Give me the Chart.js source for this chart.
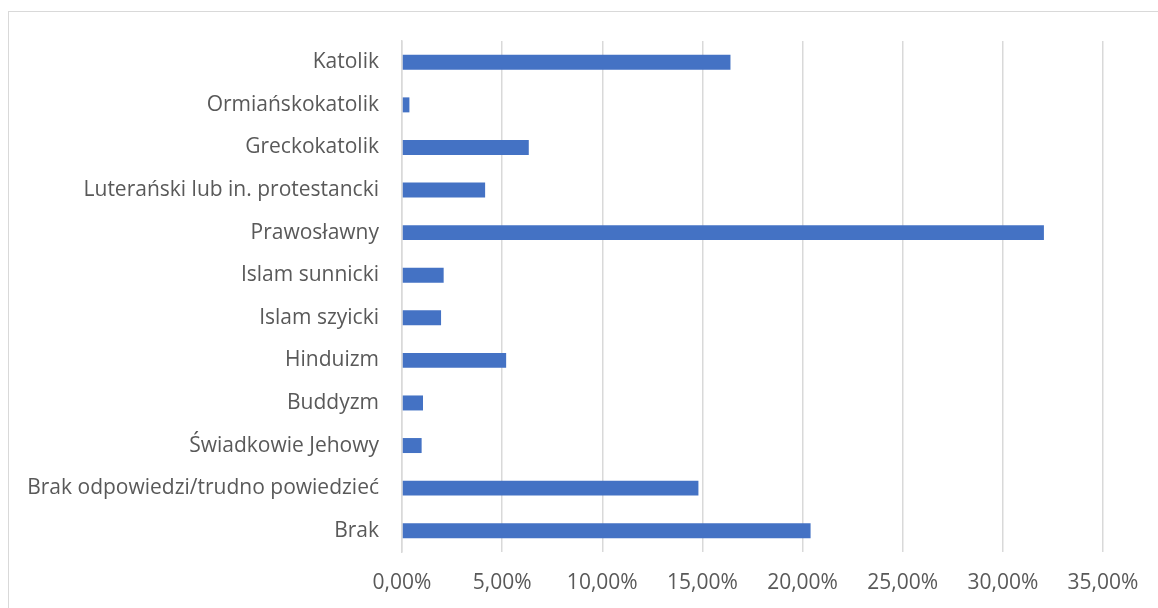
<!DOCTYPE html>
<html>
<head>
<meta charset="utf-8">
<script src="https://cdn.jsdelivr.net/npm/chart.js@4"></script>
<style>
    html, body { margin: 0; padding: 0; background: #fff; overflow: hidden; }
    #frame { position: absolute; left: 8px; top: 11px; width: 1200px; height: 700px; border: 1px solid #d9d9d9; }
    #wrap { position: absolute; left: 0; top: 0; width: 1158px; height: 608px; }
</style>
</head>
<body>
<div id="frame"></div>
<div id="wrap"><canvas id="religion-chart"></canvas></div>
<script>
// categories, top to bottom
var labelsReligion = ['Katolik', 'Ormiańskokatolik', 'Greckokatolik', 'Luterański lub in. protestancki',
    'Prawosławny', 'Islam sunnicki', 'Islam szyicki', 'Hinduizm', 'Buddyzm', 'Świadkowie Jehowy',
    'Brak odpowiedzi/trudno powiedzieć', 'Brak']
// share of respondents, in %
var dataReligion = [16.4, 0.37, 6.33, 4.15, 32.05, 2.08, 1.95, 5.2, 1.05, 0.98, 14.8, 20.4]
var axisMin = 0
var axisMax = 35
var axisStep = 5

var barColor = '#4472C4'
var gridColor = '#d9d9d9'
var textColor = '#595959'

var ctxReligion = document.getElementById('religion-chart').getContext('2d');

let religionChart = new Chart(ctxReligion, {
    type: 'bar',
    data: {
        labels: labelsReligion,
        datasets: [{
            data: dataReligion,
            backgroundColor: barColor,
            barPercentage: 0.352,
            categoryPercentage: 1
        }]
    },
    options: {
        indexAxis: 'y',
        responsive: true,
        maintainAspectRatio: false,
        animation: false,
        layout: {
            padding: { top: 41, right: 55, bottom: 0, left: 0 }
        },
        plugins: {
            legend: { display: false },
            tooltip: { enabled: false }
        },
        scales: {
            x: {
                min: axisMin,
                max: axisMax,
                ticks: {
                    stepSize: axisStep,
                    color: textColor,
                    font: { family: 'Open Sans', size: 21 },
                    padding: 18,
                    callback: function (value) {
                        return value.toFixed(2).replace('.', ',') + '%'
                    }
                },
                grid: { color: gridColor, lineWidth: 1.5, drawTicks: false },
                border: { display: false },
                afterFit: function (scale) { scale.height = 56 }
            },
            y: {
                ticks: {
                    color: textColor,
                    font: { family: 'Open Sans', size: 21 },
                    padding: 23,
                    autoSkip: false
                },
                grid: { display: false, drawTicks: false },
                border: { display: true, color: gridColor, width: 1.5 },
                afterFit: function (scale) { scale.width = 402 }
            }
        }
    }
})
</script>
</body>
</html>
